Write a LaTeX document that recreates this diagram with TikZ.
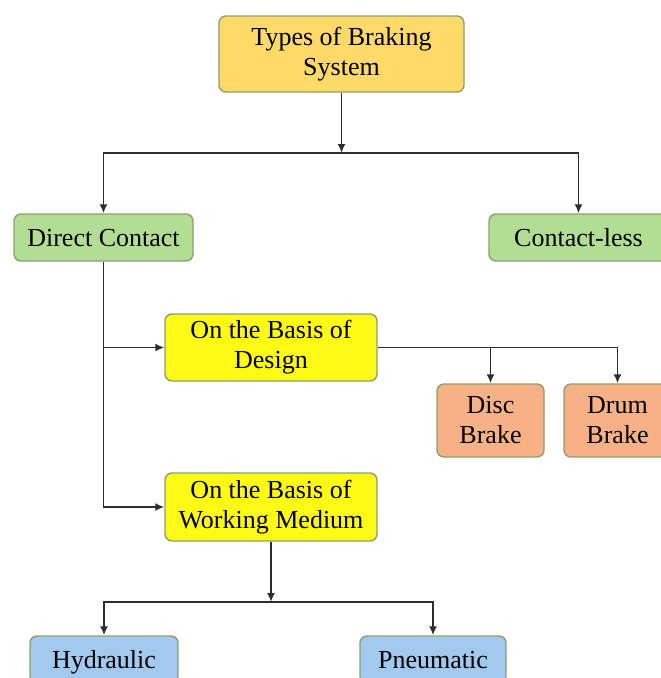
\documentclass[tikz,border=0pt]{standalone}
\usepackage{fontspec}
\setmainfont{Liberation Serif}
\usetikzlibrary{arrows.meta}

\definecolor{okraj}{RGB}{140,160,110}
\definecolor{linka}{RGB}{45,45,45}
\definecolor{zlata}{RGB}{255,218,105}
\definecolor{zluta}{RGB}{255,250,20}
\definecolor{zelena}{RGB}{178,222,148}
\definecolor{oranzova}{RGB}{246,178,132}
\definecolor{modra}{RGB}{162,201,238}

\begin{document}
\begin{tikzpicture}[
        x=1pt, y=-1pt,
        box/.style={draw=okraj, line width=1.4pt, rounded corners=7pt,
                    align=center, inner sep=2pt,
                    font=\fontsize{26}{30}\selectfont,
                    execute at begin node={\rule{0pt}{25pt}}},
        single/.style={text height=23pt, text depth=5pt},
        conn/.style={draw=linka, line width=1.8pt},
        arr/.style={conn, -{Latex[length=9pt, width=8pt]}}
    ]
    \useasboundingbox (0,0) rectangle (661,678);

    % Hlavní uzel
    \node[box, fill=zlata, minimum width=245pt, minimum height=76pt]
        (types) at (341.5,54) {Types of Braking\\System};

    % Druhá úroveň
    \node[box, single, fill=zelena, minimum width=179pt, minimum height=47pt]
        (direct) at (103.5,237.5) {Direct Contact};
    \node[box, single, fill=zelena, minimum width=179pt, minimum height=47pt]
        (less) at (578.5,237.5) {Contact-less};

    % Rozdělení přímého kontaktu
    \node[box, fill=zluta, minimum width=212pt, minimum height=67pt]
        (design) at (271,347.5) {On the Basis of\\Design};
    \node[box, fill=zluta, minimum width=212pt, minimum height=68pt]
        (medium) at (271,507) {On the Basis of\\Working Medium};

    % Podle konstrukce
    \node[box, fill=oranzova, minimum width=107pt, minimum height=73pt]
        (disc) at (490.5,420.5) {Disc\\Brake};
    \node[box, fill=oranzova, minimum width=107pt, minimum height=73pt]
        (drum) at (617.5,420.5) {Drum\\Brake};

    % Podle pracovního média
    \node[box, single, fill=modra, minimum width=148pt, minimum height=47pt]
        (hydraulic) at (104,659.5) {Hydraulic};
    \node[box, single, fill=modra, minimum width=146pt, minimum height=47pt]
        (pneumatic) at (433,659.5) {Pneumatic};

    % Uzlové body
    \coordinate (split1) at (types.south |- 0,153);
    \coordinate (split2) at (medium.south |- 0,602);

    % Spojnice
    \draw[arr] (types.south) -- (split1);
    \draw[arr] (split1) -| (direct.north);
    \draw[arr] (split1) -| (less.north);
    \draw[arr] (direct.south) |- (design.west);
    \draw[arr] (direct.south) |- (medium.west);
    \draw[arr] (design.east) -| (disc.north);
    \draw[arr] (design.east) -| (drum.north);
    \draw[arr] (medium.south) -- (split2);
    \draw[arr] (split2) -| (hydraulic.north);
    \draw[arr] (split2) -| (pneumatic.north);

\end{tikzpicture}
\end{document}
